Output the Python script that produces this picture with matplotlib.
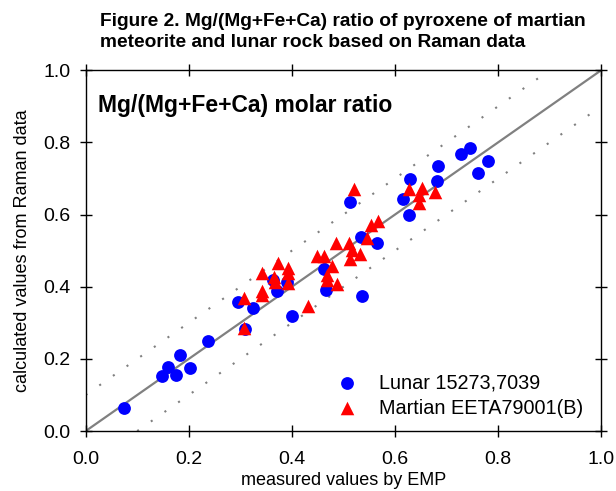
import matplotlib.pyplot as plt
import numpy as np

plt.rcParams['font.family'] = ['Liberation Sans', 'DejaVu Sans']

# Lunar 15273,7039 (measured by EMP, calculated from Raman)
lunar_x = [0.075, 0.149, 0.159, 0.176, 0.183, 0.203, 0.237, 0.295, 0.324, 0.309,
           0.364, 0.371, 0.390, 0.400, 0.466, 0.463, 0.536, 0.512, 0.534, 0.566,
           0.615, 0.630, 0.628, 0.683, 0.681, 0.728, 0.746, 0.761, 0.780]
lunar_y = [0.063, 0.153, 0.178, 0.156, 0.211, 0.175, 0.250, 0.358, 0.342, 0.284,
           0.420, 0.389, 0.414, 0.319, 0.391, 0.448, 0.373, 0.636, 0.538, 0.521,
           0.642, 0.699, 0.598, 0.734, 0.693, 0.767, 0.784, 0.716, 0.749]

# Martian EETA79001(B)
mars_x = [0.307, 0.308, 0.342, 0.343, 0.343, 0.373, 0.366, 0.368, 0.392, 0.393,
          0.393, 0.431, 0.448, 0.463, 0.478, 0.468, 0.468, 0.487, 0.486, 0.510,
          0.516, 0.532, 0.512, 0.520, 0.545, 0.553, 0.568, 0.628, 0.653, 0.646,
          0.647, 0.677]
mars_y = [0.286, 0.370, 0.437, 0.389, 0.377, 0.466, 0.427, 0.414, 0.451, 0.437,
          0.411, 0.346, 0.485, 0.485, 0.457, 0.432, 0.420, 0.407, 0.520, 0.522,
          0.501, 0.490, 0.478, 0.670, 0.534, 0.571, 0.583, 0.672, 0.674, 0.654,
          0.631, 0.663]

tick_vals = [0.0, 0.2, 0.4, 0.6, 0.8, 1.0]
tick_labels = ['0.0', '0.2', '0.4', '0.6', '0.8', '1.0']

fig = plt.figure(figsize=(6.16, 4.91), dpi=100)
ax = fig.add_axes([0.139, 0.122, 0.837, 0.735])

# 1:1 line and +/-0.1 bands
ax.plot([0, 1], [0, 1], color='#808080', lw=1.6, zorder=1)
ax.plot([0, 0.9], [0.1, 1.0], color='#808080', lw=1.5, linestyle=(0, (1, 7)), zorder=1)
ax.plot([0.1, 1.0], [0, 0.9], color='#808080', lw=1.5, linestyle=(0, (1, 7)), zorder=1)

ax.scatter(lunar_x, lunar_y, s=85, color='#0000FF', marker='o', zorder=3,
           label='Lunar 15273,7039', linewidths=0)
ax.scatter(mars_x, mars_y, s=95, color='#FF0000', marker='^', zorder=4,
           label='Martian EETA79001(B)', linewidths=0)

ax.set_xlim(0, 1)
ax.set_ylim(0, 1)
ax.set_xticks(tick_vals)
ax.set_yticks(tick_vals)
ax.set_xticklabels(tick_labels)
ax.set_yticklabels(tick_labels)
ax.tick_params(direction='inout', length=8, width=1, labelsize=14,
               top=True, right=True, labeltop=False, labelright=False)
ax.tick_params(axis='x', pad=10)
ax.tick_params(axis='y', pad=7)
for sp in ax.spines.values():
    sp.set_linewidth(1)

ax.set_xlabel('measured values by EMP', fontsize=13, labelpad=3)
ax.set_ylabel('calculated values from Raman data', fontsize=13, labelpad=9)

ax.text(0.024, 0.903, 'Mg/(Mg+Fe+Ca) molar ratio', transform=ax.transAxes,
        fontsize=16.5, fontweight='bold', ha='left', va='center')

leg = ax.legend(loc='lower right', frameon=False, fontsize=14.3,
                bbox_to_anchor=(1.0, -0.012), handletextpad=0.6,
                labelspacing=0.3, markerscale=1.0)

fig.text(0.162, 0.934, 'Figure 2. Mg/(Mg+Fe+Ca) ratio of pyroxene of martian\n'
         'meteorite and lunar rock based on Raman data',
         fontsize=13.8, fontweight='bold', ha='left', va='center', linespacing=1.3)

fig.savefig('out.png', dpi=100)
